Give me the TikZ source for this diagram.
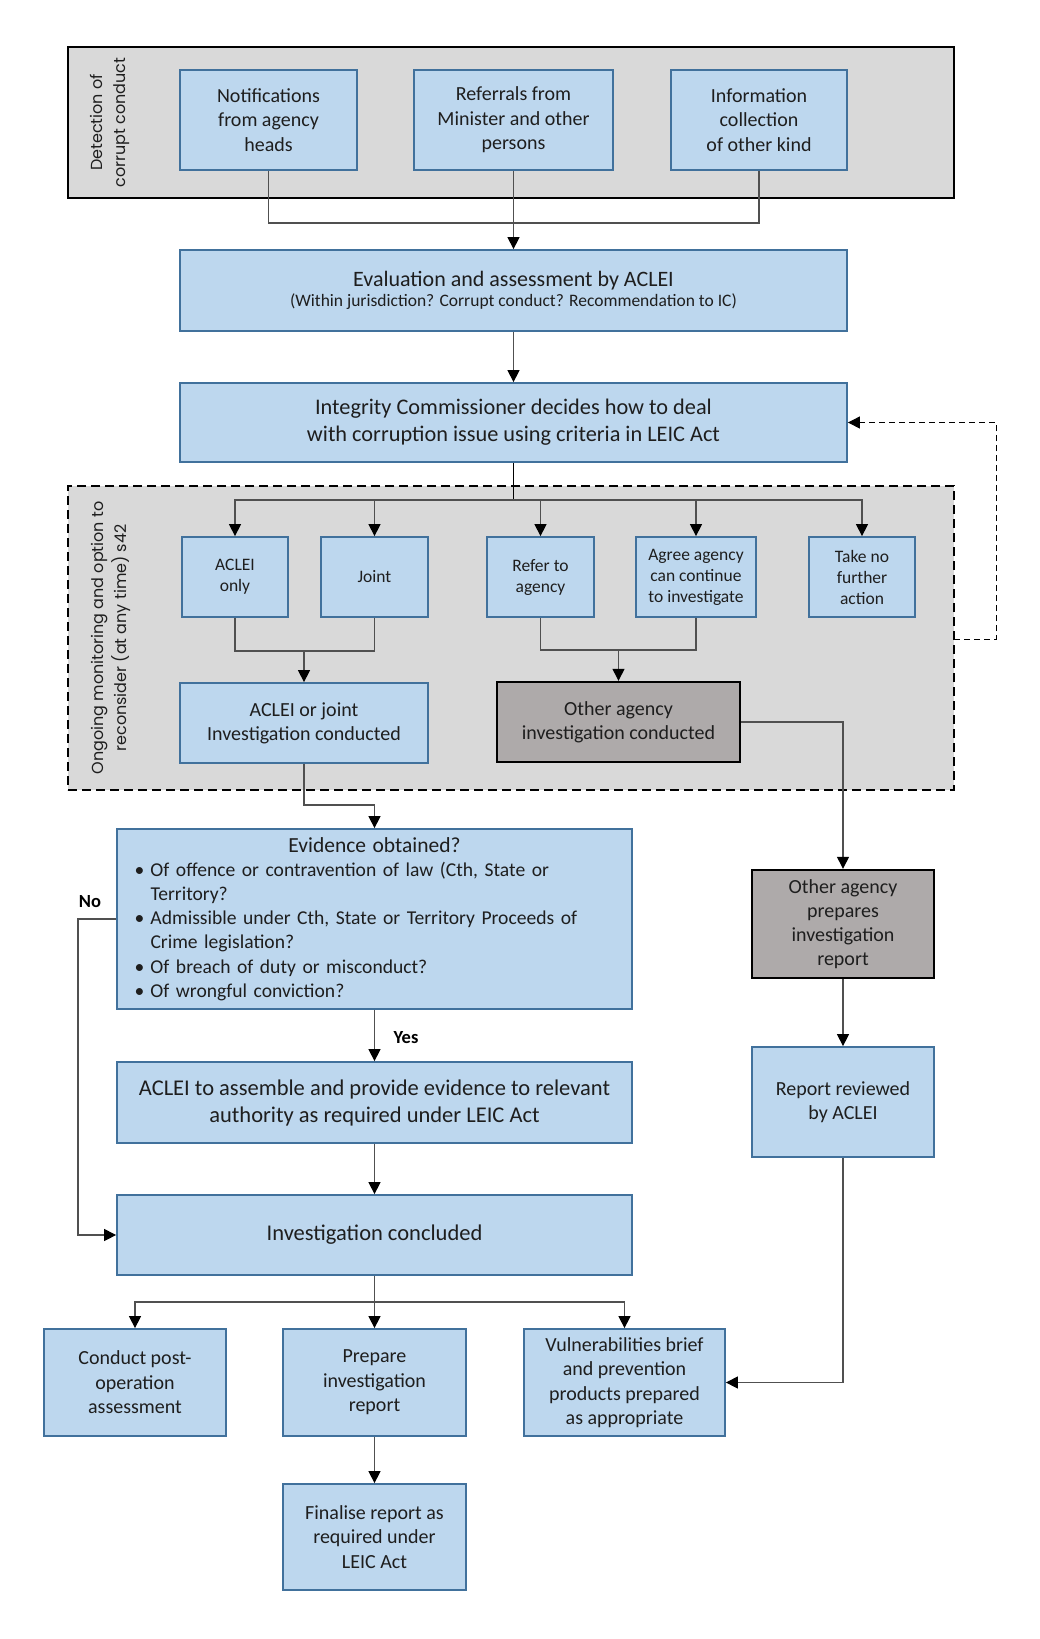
\documentclass[tikz,border=0pt]{standalone}
\usepackage{fontspec}
\setmainfont{Carlito}
\newfontfamily\gothic{Poppins}
\usetikzlibrary{arrows.meta}
\definecolor{bfill}{HTML}{BDD7EE}
\definecolor{bborder}{HTML}{41719C}
\definecolor{cgray}{HTML}{D9D9D9}
\definecolor{ogray}{HTML}{AEAAAA}
\definecolor{lgray}{HTML}{505050}
\definecolor{txt}{HTML}{1E1E1E}
\newcommand\fs[2]{\fontsize{#1}{#2}\selectfont}
\tikzset{
  box/.style={draw=bborder, fill=bfill, line width=1.8pt, align=center, inner sep=2pt, text=txt},
  obox/.style={draw=black, fill=ogray, line width=2.4pt, align=center, inner sep=2pt, text=txt},
  contsolid/.style={draw=black, fill=cgray, line width=2pt},
  contdash/.style={draw=black, fill=cgray, line width=2pt, dash pattern=on 9pt off 5pt},
  conn/.style={draw=lgray, line width=1.3pt},
  arr/.style={conn, -{Triangle[length=12pt,width=12pt,fill=black,color=black]}},
  fback/.style={draw=black, line width=1pt, dash pattern=on 6pt off 4pt, -{Triangle[length=12pt,width=12pt,fill=black,color=black]}},
  vlab/.style={rotate=90, align=center, text=txt, font=\gothic\fs{16}{23}},
  yn/.style={text=black, font=\bfseries\fs{18.5}{22}, inner sep=0pt}
}
\begin{document}
\begin{tikzpicture}[x=1pt,y=-1pt]
\useasboundingbox[fill=white] (0,0) rectangle (1040,1639);
% containers
\node[contsolid, minimum width=886pt, minimum height=151pt] (detect) at (511,122.5) {};
\node[contdash, minimum width=886pt, minimum height=304pt] (monitor) at (511,638) {};
\node[vlab] (detlab) at (110,122.5) {Detection of\\corrupt conduct};
\node[vlab] (monlab) at (111,638) {Ongoing monitoring and option to\\reconsider (at any time) s42};
% top boxes
\node[box, minimum width=177pt, minimum height=100pt, font=\fs{20}{24.5}] (notif) at (268.5,120) {Notifications\\from agency\\heads};
\node[box, minimum width=199pt, minimum height=100pt, font=\fs{20}{24.5}] (refer) at (513.5,120) {Referrals from\\Minister and other\\persons};
\node[box, minimum width=176pt, minimum height=100pt, font=\fs{20}{24.5}] (info) at (759,120) {Information\\collection\\of other kind};
\node[box, minimum width=667pt, minimum height=81pt] (eval) at (513.5,290.5) {{\fs{22}{24}Evaluation and assessment by ACLEI}\\[3pt]{\fs{17.5}{20}(Within jurisdiction? Corrupt conduct? Recommendation to IC)}};
\node[box, minimum width=667pt, minimum height=79pt, font=\fs{22.3}{27}] (ic) at (513.5,422.5) {Integrity Commissioner decides how to deal\\with corruption issue using criteria in LEIC Act};
% five options
\node[box, minimum width=106pt, minimum height=80pt, font=\fs{17.5}{21}] (aonly) at (235,577) {ACLEI\\only};
\node[box, minimum width=107pt, minimum height=80pt, font=\fs{17.5}{21}] (joint) at (374.5,577) {Joint};
\node[box, minimum width=107pt, minimum height=80pt, font=\fs{17.5}{21}] (referag) at (540.5,577) {Refer to\\agency};
\node[box, minimum width=120pt, minimum height=80pt, font=\fs{17.5}{21}] (agree) at (696,577) {Agree agency\\can continue\\to investigate};
\node[box, minimum width=106pt, minimum height=80pt, font=\fs{17.5}{21}] (takeno) at (862,577) {Take no\\further\\action};
\node[box, minimum width=248pt, minimum height=80pt, font=\fs{20}{24}] (aoj) at (304,723) {ACLEI or joint\\Investigation conducted};
\node[obox, minimum width=243pt, minimum height=80pt, font=\fs{20}{24}] (other) at (618.5,722) {Other agency\\investigation conducted};
% evidence
\node[box, minimum width=515pt, minimum height=180pt, font=\fs{19.6}{24.2}, align=left, text width=480pt] (evid) at (374.5,919) {%
\makebox[480pt][c]{\fs{21.5}{24.2}Evidence obtained?}\\
\makebox[16pt][l]{\textbullet}Of offence or contravention of law (Cth, State or\\
\hspace*{16pt}Territory?\\
\makebox[16pt][l]{\textbullet}Admissible under Cth, State or Territory Proceeds of\\
\hspace*{16pt}Crime legislation?\\
\makebox[16pt][l]{\textbullet}Of breach of duty or misconduct?\\
\makebox[16pt][l]{\textbullet}Of wrongful conviction?};
\node[box, minimum width=515pt, minimum height=81pt, font=\fs{22.5}{27}] (assemble) at (374.5,1102.5) {ACLEI to assemble and provide evidence to relevant\\authority as required under LEIC Act};
\node[box, minimum width=515pt, minimum height=80pt, font=\fs{22.5}{26}] (concl) at (374.5,1235) {Investigation concluded};
% right column
\node[obox, minimum width=182pt, minimum height=108pt, font=\fs{20}{24}] (prep) at (843,924) {Other agency\\prepares\\investigation\\report};
\node[box, minimum width=182pt, minimum height=110pt, font=\fs{20}{24.5}] (reviewed) at (843,1102) {Report reviewed\\by ACLEI};
% bottom
\node[box, minimum width=182pt, minimum height=107pt, font=\fs{20}{24.5}] (post) at (135,1382.5) {Conduct post-\\operation\\assessment};
\node[box, minimum width=183pt, minimum height=107pt, font=\fs{20}{24.5}] (prepare) at (374.5,1382.5) {Prepare\\investigation\\report};
\node[box, minimum width=201pt, minimum height=107pt, font=\fs{20}{24.5}] (vuln) at (624.5,1382.5) {Vulnerabilities brief\\and prevention\\products prepared\\as appropriate};
\node[box, minimum width=183pt, minimum height=106pt, font=\fs{20}{24.5}] (final) at (374.5,1537) {Finalise report as\\required under\\LEIC Act};
% junction coordinates
\coordinate (j1) at (513.5,223);
\coordinate (bus1) at (513.5,500);
\coordinate (j2) at (304,651);
\coordinate (j3) at (618.5,650);
\coordinate (j4) at (374.5,805);
\coordinate (nox) at (78,1078);
\coordinate (bus2) at (374.5,1302);
\coordinate (fb1) at (954,639);
\coordinate (fb2) at (996,639);
% connectors
\draw[conn] (notif.south) |- (j1) -| (info.south);
\draw[arr] (refer.south) -- (eval.north);
\draw[arr] (eval.south) -- (ic.north);
\draw[conn, draw=black] (ic.south) -- (bus1);
\draw[arr] (bus1) -| (aonly.north);
\draw[arr] (bus1) -| (joint.north);
\draw[arr] (bus1) -| (referag.north);
\draw[arr] (bus1) -| (agree.north);
\draw[arr] (bus1) -| (takeno.north);
\draw[conn] (aonly.south) |- (j2) -| (joint.south);
\draw[arr] (j2) -- (aoj.north);
\draw[conn] (referag.south) |- (j3) -| (agree.south);
\draw[arr] (j3) -- (other.north);
\draw[arr] (other.east) -| (prep.north);
\draw[arr] (prep.south) -- (reviewed.north);
\draw[arr] (reviewed.south) |- (vuln.east);
\draw[arr] (aoj.south) |- (j4) -- (evid.north);
\draw[arr] (evid.west) -| (nox) |- (concl.west);
\node[yn] (nolab) at (90,902) {No};
\draw[arr] (evid.south) -- (assemble.north);
\node[yn] (yeslab) at (406,1038) {Yes};
\draw[arr] (assemble.south) -- (concl.north);
\draw[conn] (concl.south) -- (bus2);
\draw[arr] (bus2) -| (post.north);
\draw[arr] (bus2) -- (prepare.north);
\draw[arr] (bus2) -| (vuln.north);
\draw[arr] (prepare.south) -- (final.north);
\draw[fback] (fb1) -- (fb2) |- (ic.east);
\end{tikzpicture}
\end{document}
